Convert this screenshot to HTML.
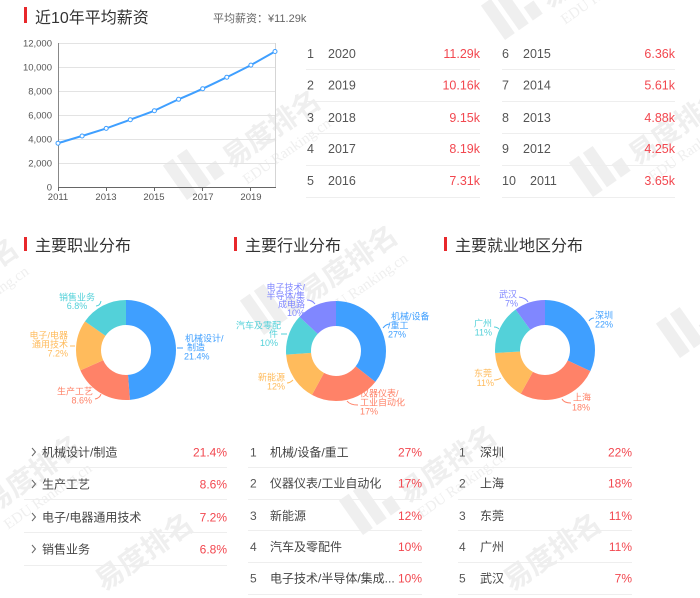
<!DOCTYPE html>
<html><head><meta charset="utf-8"><style>
html,body{margin:0;padding:0;background:#fff;width:700px;height:598px;overflow:hidden;}
svg{display:block;font-family:"Liberation Sans","Noto Sans CJK SC",sans-serif;overflow:hidden;}
</style></head><body>
<svg width="700" height="598" viewBox="0 0 700 598" xmlns="http://www.w3.org/2000/svg">
<rect width="700" height="598" fill="#fff"/>
<!-- watermarks -->
<g fill="#efefef">
<g transform="translate(187,200) rotate(-35)"><rect x="0" y="-42" width="12" height="42"/><rect x="17" y="-42" width="12" height="42"/><rect x="34" y="-16" width="12" height="16"/><text x="54" y="0" font-size="28" font-weight="bold">易度排名</text><text x="58" y="22" font-size="15" font-family="Liberation Serif,serif">EDU Ranking.cn</text></g>
<g transform="translate(593,197) rotate(-35)"><rect x="0" y="-42" width="12" height="42"/><rect x="17" y="-42" width="12" height="42"/><rect x="34" y="-16" width="12" height="16"/><text x="54" y="0" font-size="28" font-weight="bold">易度排名</text><text x="58" y="22" font-size="15" font-family="Liberation Serif,serif">EDU Ranking.cn</text></g>
<g transform="translate(505,40) rotate(-35)"><rect x="0" y="-42" width="12" height="42"/><rect x="17" y="-42" width="12" height="42"/><rect x="34" y="-16" width="12" height="16"/><text x="54" y="0" font-size="28" font-weight="bold">易度排名</text><text x="58" y="22" font-size="15" font-family="Liberation Serif,serif">EDU Ranking.cn</text></g>
<g transform="translate(264,335) rotate(-35)"><rect x="0" y="-42" width="12" height="42"/><rect x="17" y="-42" width="12" height="42"/><rect x="34" y="-16" width="12" height="16"/><text x="54" y="0" font-size="28" font-weight="bold">易度排名</text><text x="58" y="22" font-size="15" font-family="Liberation Serif,serif">EDU Ranking.cn</text></g>
<g transform="translate(680,358) rotate(-35)"><rect x="0" y="-42" width="12" height="42"/><rect x="17" y="-42" width="12" height="42"/><rect x="34" y="-16" width="12" height="16"/></g>
<g transform="translate(-115,348) rotate(-35)"><rect x="0" y="-42" width="12" height="42"/><rect x="17" y="-42" width="12" height="42"/><rect x="34" y="-16" width="12" height="16"/><text x="54" y="0" font-size="28" font-weight="bold">易度排名</text><text x="58" y="22" font-size="15" font-family="Liberation Serif,serif">EDU Ranking.cn</text></g>
<g transform="translate(-52,545) rotate(-35)"><rect x="0" y="-42" width="12" height="42"/><rect x="17" y="-42" width="12" height="42"/><rect x="34" y="-16" width="12" height="16"/><text x="54" y="0" font-size="28" font-weight="bold">易度排名</text><text x="58" y="22" font-size="15" font-family="Liberation Serif,serif">EDU Ranking.cn</text></g>
<g transform="translate(363,535) rotate(-35)"><rect x="0" y="-42" width="12" height="42"/><rect x="17" y="-42" width="12" height="42"/><rect x="34" y="-16" width="12" height="16"/><text x="54" y="0" font-size="28" font-weight="bold">易度排名</text><text x="58" y="20" font-size="15" font-family="Liberation Serif,serif">EDU Ranking.cn</text></g>
<text transform="translate(512,592) rotate(-35)" font-size="28" font-weight="bold">易度排名</text>
<text transform="translate(104,592) rotate(-35)" font-size="28" font-weight="bold">易度排名</text>
</g>

<!-- Title 1 -->
<rect x="24" y="7" width="3" height="16" fill="#e8282b"/>
<text x="35" y="23" font-size="16" fill="#333">近10年平均薪资</text>
<text x="213" y="22" font-size="11" fill="#666">平均薪资：¥11.29k</text>

<!-- line chart -->
<g stroke="#e3e3e3" stroke-width="1">
<line x1="58" y1="43.5" x2="275" y2="43.5"/>
<line x1="58" y1="67.5" x2="275" y2="67.5"/>
<line x1="58" y1="91.5" x2="275" y2="91.5"/>
<line x1="58" y1="115.5" x2="275" y2="115.5"/>
<line x1="58" y1="139.5" x2="275" y2="139.5"/>
<line x1="58" y1="163.5" x2="275" y2="163.5"/>
</g>
<line x1="275.5" y1="43" x2="275.5" y2="187" stroke="#d5d5d5"/>
<line x1="58.5" y1="43" x2="58.5" y2="187" stroke="#888"/>
<line x1="58" y1="187.5" x2="276" y2="187.5" stroke="#666"/>
<g stroke="#666"><line x1="58.5" y1="187" x2="58.5" y2="191"/><line x1="106.5" y1="187" x2="106.5" y2="191"/><line x1="154.5" y1="187" x2="154.5" y2="191"/><line x1="202.5" y1="187" x2="202.5" y2="191"/><line x1="250.5" y1="187" x2="250.5" y2="191"/></g>
<g font-size="9.5" fill="#555" text-anchor="end">
<text x="52" y="46.5">12,000</text>
<text x="52" y="70.5">10,000</text>
<text x="52" y="94.5">8,000</text>
<text x="52" y="118.5">6,000</text>
<text x="52" y="142.5">4,000</text>
<text x="52" y="166.5">2,000</text>
<text x="52" y="190.5">0</text>
</g>
<g font-size="9.5" fill="#555" text-anchor="middle">
<text x="58" y="200">2011</text>
<text x="106" y="200">2013</text>
<text x="154" y="200">2015</text>
<text x="203" y="200">2017</text>
<text x="251" y="200">2019</text>
</g>
<path d="M58,143.2 C66,140.8 74,138.3 82.1,136 C90,133.5 98,131 106.2,128.4 C114,125.5 122,122.6 130.3,119.7 C138,116.8 146,114 154.4,110.7 C162,107 170,103.3 178.6,99.3 C187,95.8 195,92.3 202.7,88.7 C211,84.9 219,81 226.8,77.2 C235,73.2 243,69.1 250.9,65.1 C259,60.6 267,56 275,51.5" fill="none" stroke="#3f9fff" stroke-width="2"/>
<g fill="#fff" stroke="#3f9fff" stroke-width="1">
<circle cx="58" cy="143.2" r="2"/><circle cx="82.1" cy="136" r="2"/><circle cx="106.2" cy="128.4" r="2"/><circle cx="130.3" cy="119.7" r="2"/><circle cx="154.4" cy="110.7" r="2"/><circle cx="178.6" cy="99.3" r="2"/><circle cx="202.7" cy="88.7" r="2"/><circle cx="226.8" cy="77.2" r="2"/><circle cx="250.9" cy="65.1" r="2"/><circle cx="275" cy="51.5" r="2"/>
</g>

<!-- table -->
<g stroke="#eeeeee" stroke-width="1">
<line x1="306" y1="69.5" x2="480" y2="69.5"/><line x1="306" y1="101.5" x2="480" y2="101.5"/><line x1="306" y1="133.5" x2="480" y2="133.5"/><line x1="306" y1="165.5" x2="480" y2="165.5"/><line x1="306" y1="197.5" x2="480" y2="197.5"/>
<line x1="502" y1="69.5" x2="675" y2="69.5"/><line x1="502" y1="101.5" x2="675" y2="101.5"/><line x1="502" y1="133.5" x2="675" y2="133.5"/><line x1="502" y1="165.5" x2="675" y2="165.5"/><line x1="502" y1="197.5" x2="675" y2="197.5"/>
</g>
<g font-size="12.5" fill="#555">
<text x="307" y="58">1</text><text x="328" y="58">2020</text>
<text x="307" y="89.5">2</text><text x="328" y="89.5">2019</text>
<text x="307" y="122">3</text><text x="328" y="122">2018</text>
<text x="307" y="153">4</text><text x="328" y="153">2017</text>
<text x="307" y="185">5</text><text x="328" y="185">2016</text>
<text x="502" y="58">6</text><text x="523" y="58">2015</text>
<text x="502" y="89.5">7</text><text x="523" y="89.5">2014</text>
<text x="502" y="122">8</text><text x="523" y="122">2013</text>
<text x="502" y="153">9</text><text x="523" y="153">2012</text>
<text x="502" y="185">10</text><text x="530" y="185">2011</text>
</g>
<g font-size="12.5" fill="#f2474f" text-anchor="end">
<text x="480" y="58">11.29k</text><text x="480" y="89.5">10.16k</text><text x="480" y="122">9.15k</text><text x="480" y="153">8.19k</text><text x="480" y="185">7.31k</text>
<text x="675" y="58">6.36k</text><text x="675" y="89.5">5.61k</text><text x="675" y="122">4.88k</text><text x="675" y="153">4.25k</text><text x="675" y="185">3.65k</text>
</g>

<!-- section titles -->
<rect x="24" y="237" width="3" height="14" fill="#e8282b"/>
<text x="35" y="251" font-size="16" fill="#333">主要职业分布</text>
<rect x="234" y="237" width="3" height="14" fill="#e8282b"/>
<text x="245" y="251" font-size="16" fill="#333">主要行业分布</text>
<rect x="444" y="237" width="3" height="14" fill="#e8282b"/>
<text x="455" y="251" font-size="16" fill="#333">主要就业地区分布</text>

<!-- donut 1 -->
<g transform="translate(126,350) rotate(-90)" fill="none" stroke-width="25">
<circle r="37.5" stroke="#3f9fff" stroke-dasharray="114.60 300" stroke-dashoffset="0"/>
<circle r="37.5" stroke="#ff8268" stroke-dasharray="46.05 300" stroke-dashoffset="-114.60"/>
<circle r="37.5" stroke="#ffbb5c" stroke-dasharray="38.56 300" stroke-dashoffset="-160.65"/>
<circle r="37.5" stroke="#53d1d9" stroke-dasharray="36.41 300" stroke-dashoffset="-199.21"/>
</g>
<g fill="none" stroke-width="1">
<path d="M101,301 Q100,306 96,306" stroke="#53d1d9"/>
<path d="M75,346 L70,346" stroke="#ffbb5c"/>
<path d="M101,394 Q100,398 95,399" stroke="#ff8268"/>
<path d="M177,348 L183,348" stroke="#3f9fff"/>
</g>
<g font-size="9">
<g fill="#53d1d9" text-anchor="middle"><text x="77" y="300.5">销售业务</text><text x="77" y="309">6.8%</text></g>
<g fill="#ffbb5c" text-anchor="end"><text x="68" y="338.5">电子/电器</text><text x="68" y="347.5">通用技术</text><text x="68" y="356.5">7.2%</text></g>
<g fill="#ff8268" text-anchor="end"><text x="93" y="394.5">生产工艺</text><text x="92" y="403.5">8.6%</text></g>
<g fill="#3f9fff"><text x="185" y="341.5">机械设计/</text><text x="187" y="350.5">制造</text><text x="184" y="359.5">21.4%</text></g>
</g>

<!-- donut 2 -->
<g transform="translate(336,351) rotate(-90)" fill="none" stroke-width="25">
<circle r="37.5" stroke="#3f9fff" stroke-dasharray="83.71 300" stroke-dashoffset="0"/>
<circle r="37.5" stroke="#ff8268" stroke-dasharray="52.70 300" stroke-dashoffset="-83.71"/>
<circle r="37.5" stroke="#ffbb5c" stroke-dasharray="37.20 300" stroke-dashoffset="-136.41"/>
<circle r="37.5" stroke="#53d1d9" stroke-dasharray="31.00 300" stroke-dashoffset="-173.61"/>
<circle r="37.5" stroke="#8087ff" stroke-dasharray="31.00 300" stroke-dashoffset="-204.61"/>
</g>
<g fill="none" stroke-width="1">
<path d="M383,328 Q386,324 390,324" stroke="#3f9fff"/>
<path d="M347,401 Q350,405 358,405" stroke="#ff8268"/>
<path d="M293,380 Q290,383 287,383" stroke="#ffbb5c"/>
<path d="M287,334 L281,334" stroke="#53d1d9"/>
<path d="M315,304 Q312,300 307,300" stroke="#8087ff"/>
</g>
<g font-size="9">
<g fill="#8087ff" text-anchor="end"><text x="305" y="290.5">电子技术/</text><text x="305" y="299">半导体/集</text><text x="305" y="307.5">成电路</text><text x="305" y="316">10%</text></g>
<g fill="#53d1d9" text-anchor="end"><text x="281" y="328.5">汽车及零配</text><text x="278" y="337">件</text><text x="278" y="346">10%</text></g>
<g fill="#ffbb5c" text-anchor="end"><text x="285" y="380.5">新能源</text><text x="285" y="389.5">12%</text></g>
<g fill="#ff8268"><text x="360" y="396.5">仪器仪表/</text><text x="360" y="405.5">工业自动化</text><text x="360" y="414.5">17%</text></g>
<g fill="#3f9fff"><text x="391" y="319.5">机械/设备</text><text x="388" y="328.5">/重工</text><text x="388" y="337.5">27%</text></g>
</g>

<!-- donut 3 -->
<g transform="translate(545,350) rotate(-90)" fill="none" stroke-width="25">
<circle r="37.5" stroke="#3f9fff" stroke-dasharray="75.12 300" stroke-dashoffset="0"/>
<circle r="37.5" stroke="#ff8268" stroke-dasharray="61.47 300" stroke-dashoffset="-75.12"/>
<circle r="37.5" stroke="#ffbb5c" stroke-dasharray="37.56 300" stroke-dashoffset="-136.59"/>
<circle r="37.5" stroke="#53d1d9" stroke-dasharray="37.56 300" stroke-dashoffset="-174.15"/>
<circle r="37.5" stroke="#8087ff" stroke-dasharray="23.91 300" stroke-dashoffset="-211.71"/>
</g>
<g fill="none" stroke-width="1">
<path d="M589,321 Q591,318 594,318" stroke="#3f9fff"/>
<path d="M562,399 Q564,403 571,403" stroke="#ff8268"/>
<path d="M501,378 Q498,380 494,380" stroke="#ffbb5c"/>
<path d="M499,329 Q497,327 494,327" stroke="#53d1d9"/>
<path d="M528,302 Q526,298 519,297" stroke="#8087ff"/>
</g>
<g font-size="9">
<g fill="#8087ff" text-anchor="end"><text x="517" y="297.5">武汉</text><text x="518" y="306.5">7%</text></g>
<g fill="#53d1d9" text-anchor="end"><text x="492" y="326.5">广州</text><text x="492" y="335.5">11%</text></g>
<g fill="#ffbb5c" text-anchor="end"><text x="492" y="376.5">东莞</text><text x="494" y="386">11%</text></g>
<g fill="#ff8268"><text x="573" y="400.5">上海</text><text x="572" y="410.5">18%</text></g>
<g fill="#3f9fff"><text x="595" y="318.5">深圳</text><text x="595" y="327.5">22%</text></g>
</g>

<!-- list 1 -->
<g stroke="#eeeeee" stroke-width="1">
<line x1="24" y1="467.5" x2="227" y2="467.5"/><line x1="24" y1="499.5" x2="227" y2="499.5"/><line x1="24" y1="532.5" x2="227" y2="532.5"/><line x1="24" y1="565.5" x2="227" y2="565.5"/>
</g>
<g fill="none" stroke="#666" stroke-width="1">
<polyline points="32,448 35.5,452 32,456"/>
<polyline points="32,480 35.5,484 32,488"/>
<polyline points="32,513 35.5,517 32,521"/>
<polyline points="32,545 35.5,549 32,553"/>
</g>
<g font-size="12" fill="#444">
<text x="42" y="456.5">机械设计/制造</text>
<text x="42" y="488.5">生产工艺</text>
<text x="42" y="521.5">电子/电器通用技术</text>
<text x="42" y="553.5">销售业务</text>
</g>
<g font-size="12" fill="#f2474f" text-anchor="end">
<text x="227" y="456.5">21.4%</text><text x="227" y="488.5">8.6%</text><text x="227" y="521.5">7.2%</text><text x="227" y="553.5">6.8%</text>
</g>

<!-- list 2 -->
<g stroke="#eeeeee" stroke-width="1">
<line x1="248" y1="467.5" x2="422" y2="467.5"/><line x1="248" y1="499.5" x2="422" y2="499.5"/><line x1="248" y1="530.5" x2="422" y2="530.5"/><line x1="248" y1="562.5" x2="422" y2="562.5"/><line x1="248" y1="594.5" x2="422" y2="594.5"/>
</g>
<g font-size="12" fill="#555">
<text x="250" y="456.5">1</text><text x="250" y="487.5">2</text><text x="250" y="520">3</text><text x="250" y="551">4</text><text x="250" y="582.5">5</text>
</g>
<g font-size="12" fill="#444">
<text x="270" y="456.5">机械/设备/重工</text>
<text x="270" y="487.5">仪器仪表/工业自动化</text>
<text x="270" y="520">新能源</text>
<text x="270" y="551">汽车及零配件</text>
<text x="270" y="582.5">电子技术/半导体/集成...</text>
</g>
<g font-size="12" fill="#f2474f" text-anchor="end">
<text x="422" y="456.5">27%</text><text x="422" y="487.5">17%</text><text x="422" y="520">12%</text><text x="422" y="551">10%</text><text x="422" y="582.5">10%</text>
</g>

<!-- list 3 -->
<g stroke="#eeeeee" stroke-width="1">
<line x1="458" y1="467.5" x2="632" y2="467.5"/><line x1="458" y1="499.5" x2="632" y2="499.5"/><line x1="458" y1="530.5" x2="632" y2="530.5"/><line x1="458" y1="562.5" x2="632" y2="562.5"/><line x1="458" y1="594.5" x2="632" y2="594.5"/>
</g>
<g font-size="12" fill="#555">
<text x="459" y="456.5">1</text><text x="459" y="487.5">2</text><text x="459" y="520">3</text><text x="459" y="551">4</text><text x="459" y="582.5">5</text>
</g>
<g font-size="12" fill="#444">
<text x="480" y="456.5">深圳</text>
<text x="480" y="487.5">上海</text>
<text x="480" y="520">东莞</text>
<text x="480" y="551">广州</text>
<text x="480" y="582.5">武汉</text>
</g>
<g font-size="12" fill="#f2474f" text-anchor="end">
<text x="632" y="456.5">22%</text><text x="632" y="487.5">18%</text><text x="632" y="520">11%</text><text x="632" y="551">11%</text><text x="632" y="582.5">7%</text>
</g>
</svg>
</body></html>
